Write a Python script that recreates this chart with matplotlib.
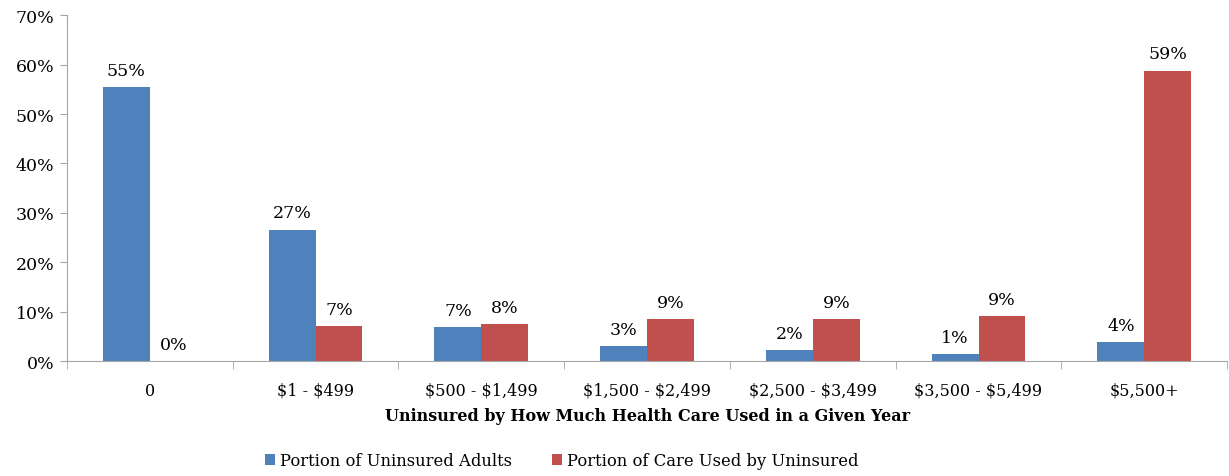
import matplotlib.pyplot as plt
import numpy as np

CATEGORIES = ["0", "$1 - $499", "$500 - $1,499", "$1,500 - $2,499",
              "$2,500 - $3,499", "$3,500 - $5,499", "$5,500+"]
UNINSURED_ADULTS = [55.4, 26.6, 6.9, 3.0, 2.2, 1.4, 3.8]
CARE_USED = [0.0, 7.1, 7.4, 8.5, 8.5, 9.1, 58.8]
ADULT_LABELS = ["55%", "27%", "7%", "3%", "2%", "1%", "4%"]
CARE_LABELS = ["0%", "7%", "8%", "9%", "9%", "9%", "59%"]

BLUE = "#4F81BD"
RED = "#C0504D"
GREY = "#A6A6A6"
FONT = "DejaVu Serif"
SIZE = 12.5


def main() -> None:
    plt.rcParams["font.family"] = FONT
    plt.rcParams["text.parse_math"] = False
    fig = plt.figure(figsize=(12.29, 4.77), dpi=100)
    ax = fig.add_axes([0.0545, 0.241, 0.944, 0.725])

    x = np.arange(len(CATEGORIES))
    width = 0.283
    b1 = ax.bar(x - width / 2, UNINSURED_ADULTS, width, color=BLUE,
                label="Portion of Uninsured Adults")
    b2 = ax.bar(x + width / 2, CARE_USED, width, color=RED,
                label="Portion of Care Used by Uninsured")

    for bars, labels in ((b1, ADULT_LABELS), (b2, CARE_LABELS)):
        for bar, text in zip(bars, labels):
            ax.annotate(text, (bar.get_x() + bar.get_width() / 2, bar.get_height()),
                        xytext=(0, 6), textcoords="offset points",
                        ha="center", va="bottom", fontsize=SIZE)

    ax.set_xlim(-0.5, len(CATEGORIES) - 0.5)
    ax.set_ylim(0, 70)
    ax.set_yticks(np.arange(0, 71, 10))
    ax.set_yticklabels([f"{v}%" for v in range(0, 71, 10)], fontsize=SIZE)

    ax.set_xticks(x)
    ax.set_xticklabels(CATEGORIES, fontsize=11.5)
    ax.set_xticks(np.arange(-0.5, len(CATEGORIES)), minor=True)
    ax.tick_params(axis="x", which="major", length=0, pad=15)
    ax.tick_params(axis="x", which="minor", length=6, color=GREY)
    ax.tick_params(axis="y", length=5, color=GREY, pad=4)

    for side in ("top", "right"):
        ax.spines[side].set_visible(False)
    for side in ("left", "bottom"):
        ax.spines[side].set_color(GREY)

    ax.set_xlabel("Uninsured by How Much Health Care Used in a Given Year",
                  fontsize=11.5, fontweight="bold", labelpad=6)

    fig.legend(handles=[b1, b2], loc="center", bbox_to_anchor=(0.457, 0.032),
               ncol=2, frameon=False, fontsize=11.8, handlelength=0.65,
               handleheight=0.65, handletextpad=0.3, columnspacing=2.4)

    fig.savefig("out.png", dpi=100)
    plt.close(fig)


if __name__ == "__main__":
    main()
